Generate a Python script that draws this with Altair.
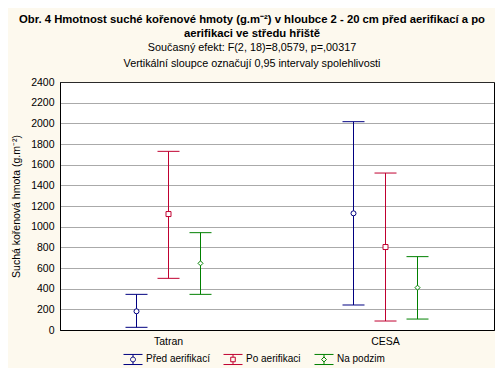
import altair as alt
import pandas as pd

categories = ["Tatran", "CESA"]
series = ["Před aerifikací", "Po aerifikaci", "Na podzim"]
colors = ["#000080", "#c00030", "#008000"]
marker_shapes = ["circle", "square", "diamond"]

# mean / lower / upper 0.95 CI per series (order as in `series`)
tatran_mean = [181, 1122, 645]
tatran_lo = [26, 500, 345]
tatran_hi = [345, 1729, 942]
cesa_mean = [1129, 803, 410]
cesa_lo = [242, 87, 106]
cesa_hi = [2016, 1519, 710]

y_ticks = list(range(0, 2401, 200))

rows = []
for cat, means, los, his in [("Tatran", tatran_mean, tatran_lo, tatran_hi),
                             ("CESA", cesa_mean, cesa_lo, cesa_hi)]:
    for s, m, lo, hi in zip(series, means, los, his):
        rows.append(dict(kat=cat, serie=s, mean=m, lo=lo, hi=hi))
df = pd.DataFrame(rows)

# legend symbols: error bar icon with marker
legend_paths = [
    "M-1,-0.53H1M-1,0.53H1M0,-0.53V-0.26M0,0.26V0.53M0.26,0A0.26,0.26 0 1,1 -0.26,0A0.26,0.26 0 1,1 0.26,0",
    "M-1,-0.53H1M-1,0.53H1M0,-0.53V-0.24M0,0.24V0.53M-0.24,-0.24H0.24V0.24H-0.24Z",
    "M-1,-0.53H1M-1,0.53H1M0,-0.53V-0.26M0,0.26V0.53M0,-0.26L0.26,0L0,0.26L-0.26,0Z",
]

FONT = "Liberation Sans"

x_axis = alt.Axis(title=None, labelAngle=0, ticks=False, labelPadding=6,
                  labelFontSize=10.5, labelColor="black", domainColor="black",
                  labelFont=FONT)
x_enc = alt.X("kat:N", sort=categories,
              scale=alt.Scale(domain=categories, paddingInner=0, paddingOuter=0),
              axis=x_axis)
xoff_enc = alt.XOffset("serie:N", sort=series,
                       scale=alt.Scale(type="point", domain=series, range=[76.5, 140.5], padding=0))
y_scale = alt.Scale(domain=[0, 2400], nice=False, zero=False)
color_enc = alt.Color("serie:N", scale=alt.Scale(domain=series, range=colors), legend=None)

Y_TITLE = "Suchá kořenová hmota (g.m⁻²)"
y_axis = alt.Axis(values=y_ticks, tickCount=13, format="d", labelOverlap=False,
                  title=Y_TITLE,
                  grid=True, gridDash=[1, 1], gridColor="#555555", gridOpacity=1, gridWidth=1,
                  ticks=False, labelPadding=6, labelFontSize=10.5,
                  labelColor="black", titleFontSize=10.5, titleFontWeight="normal",
                  titleColor="black", titlePadding=9, domainColor="black",
                  labelFont=FONT, titleFont=FONT)


def yq(field):
    return alt.Y(field, type="quantitative", scale=y_scale, axis=y_axis, title=Y_TITLE)


base = alt.Chart(df)

rules = base.mark_rule(strokeWidth=1).encode(
    x=x_enc, xOffset=xoff_enc,
    y=yq("lo"),
    y2="hi:Q",
    color=color_enc,
)

caps_lo = base.mark_tick(size=22, thickness=1, opacity=1, orient="horizontal").encode(
    x=x_enc, xOffset=xoff_enc, y=yq("lo"), color=color_enc)
caps_hi = base.mark_tick(size=22, thickness=1, opacity=1, orient="horizontal").encode(
    x=x_enc, xOffset=xoff_enc, y=yq("hi"), color=color_enc)

points = base.mark_point(filled=True, fill="white", opacity=1, strokeWidth=1, size=25).encode(
    x=x_enc, xOffset=xoff_enc, y=yq("mean"),
    stroke=alt.Stroke("serie:N", scale=alt.Scale(domain=series, range=colors), legend=None),
    shape=alt.Shape("serie:N", scale=alt.Scale(domain=series, range=marker_shapes), legend=None),
)

leg = alt.Legend(title=None, orient="none", legendX=63, legendY=267, direction="horizontal",
                 symbolSize=361, symbolStrokeWidth=1, symbolFillColor="transparent",
                 labelFontSize=10, labelFont=FONT, labelColor="black", labelOffset=3,
                 columnPadding=11, padding=0)
legend_layer = base.transform_filter("false").mark_point(filled=False, opacity=1, strokeWidth=1).encode(
    x=x_enc, y=yq("mean"),
    stroke=alt.Stroke("serie:N", scale=alt.Scale(domain=series, range=colors), legend=leg),
    shape=alt.Shape("serie:N", scale=alt.Scale(domain=series, range=legend_paths), legend=leg),
)

chart = alt.layer(rules, caps_lo, caps_hi, points, legend_layer).resolve_scale(
    stroke="independent", shape="independent"
).properties(
    width=434, height=248,
    autosize=alt.AutoSizeParams(type="none"),
    padding={"left": 52, "top": 74, "right": 1, "bottom": 38},
    background="#fdf9ee",
    title=alt.TitleParams(
        text=["Obr. 4 Hmotnost suché kořenové hmoty (g.m⁻²) v hloubce 2 - 20 cm před aerifikací a po",
              "aerifikaci ve středu hřiště"],
        subtitle=["Současný efekt: F(2, 18)=8,0579, p=,00317",
                  "Vertikální sloupce označují 0,95 intervaly spolehlivosti"],
        fontSize=11.3, fontWeight="bold", lineHeight=14, font=FONT, color="black",
        subtitleFontSize=10.8, subtitleLineHeight=16, subtitleFont=FONT, subtitleColor="black",
        subtitlePadding=3, anchor="middle", frame="group", dx=-25, offset=8,
    ),
).configure_view(stroke="black", strokeWidth=1, fill="white")

chart.save("out.html", embed_options={"renderer": "svg", "actions": False})
